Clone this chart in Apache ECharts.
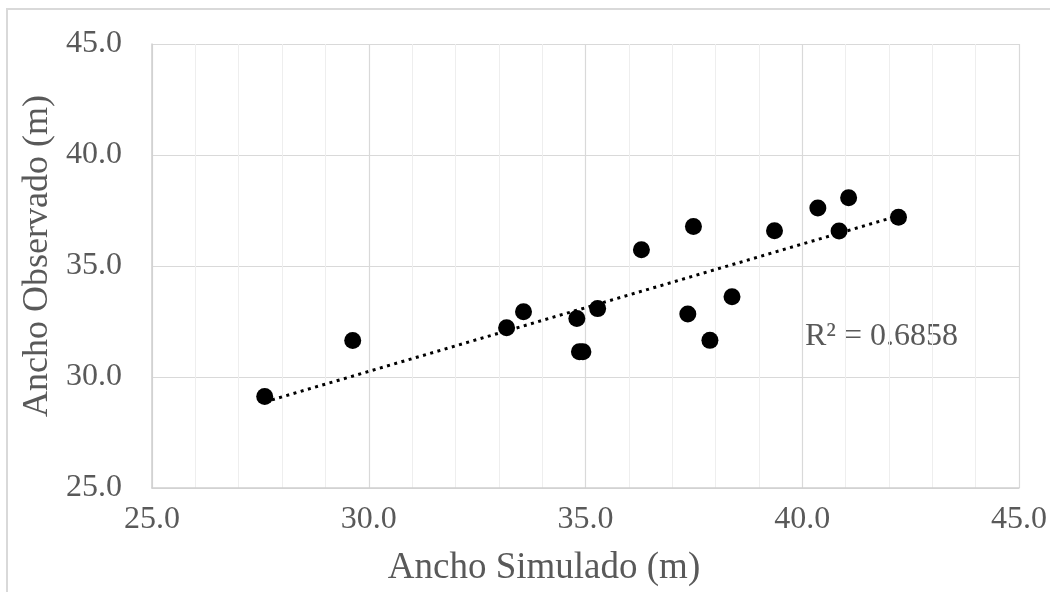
<!DOCTYPE html>
<html>
<head>
<meta charset="utf-8">
<script src="https://cdn.jsdelivr.net/npm/echarts@6/dist/echarts.min.js"></script>
<style>
html,body{margin:0;padding:0;background:#fff;}
#chart{width:1050px;height:592px;}
</style>
</head>
<body>
<div id="chart"></div>
<script>
// Data
var anchoSimulado = [27.60, 29.63, 33.18, 33.57, 34.80, 34.86, 34.94, 35.28, 36.29, 37.49, 37.36, 37.87, 38.38, 39.36, 40.36, 40.85, 41.07, 42.22];
var anchoObservado = [29.12, 31.64, 32.22, 32.94, 32.63, 31.14, 31.14, 33.08, 35.73, 36.78, 32.84, 31.65, 33.62, 36.59, 37.61, 36.58, 38.07, 37.20];
var axisTicks = [25, 30, 35, 40, 45];
var xTitle = 'Ancho Simulado (m)';
var yTitle = 'Ancho Observado (m)';
var r2Label = 'R² = 0.6858';

var points = anchoSimulado.map(function (x, i) { return [x, anchoObservado[i]]; });

// Linear trendline (least squares) over the data range
var n = points.length, mx = 0, my = 0;
points.forEach(function (p) { mx += p[0]; my += p[1]; });
mx /= n; my /= n;
var sxy = 0, sxx = 0;
points.forEach(function (p) { sxy += (p[0] - mx) * (p[1] - my); sxx += (p[0] - mx) * (p[0] - mx); });
var slope = sxy / sxx, intercept = my - slope * mx;
var xMin = Math.min.apply(null, anchoSimulado), xMax = Math.max.apply(null, anchoSimulado);
var trend = [[xMin, intercept + slope * xMin], [xMax, intercept + slope * xMax]];

var FONT = 'Liberation Serif';
var GREY = '#595959';

var chart = echarts.init(document.getElementById('chart'), null, { renderer: 'canvas' });
chart.setOption({
  backgroundColor: '#ffffff',
  animation: false,
  grid: { left: 152, top: 44, width: 867, height: 444, outerBoundsMode: 'none', containLabel: false },
  xAxis: {
    type: 'value',
    min: axisTicks[0], max: axisTicks[axisTicks.length - 1], interval: 5,
    axisLine: { show: true, lineStyle: { color: '#cfcfcf', width: 1.5 } },
    axisTick: { show: false },
    minorTick: { show: false, splitNumber: 5 },
    splitLine: { show: true, lineStyle: { color: '#d9d9d9', width: 1.2 } },
    minorSplitLine: { show: true, lineStyle: { color: '#eeeeee', width: 1 } },
    axisLabel: {
      color: GREY, fontFamily: FONT, fontSize: 32, margin: 16,
      formatter: function (v) { return v.toFixed(1); }
    }
  },
  yAxis: {
    type: 'value',
    min: axisTicks[0], max: axisTicks[axisTicks.length - 1], interval: 5,
    axisLine: { show: true, lineStyle: { color: '#cfcfcf', width: 1.5 } },
    axisTick: { show: false },
    splitLine: { show: true, lineStyle: { color: '#d9d9d9', width: 1.2 } },
    axisLabel: {
      color: GREY, fontFamily: FONT, fontSize: 32, margin: 30,
      formatter: function (v) { return v.toFixed(1); }
    }
  },
  series: [
    {
      type: 'line',
      data: trend,
      symbol: 'none',
      z: 2,
      lineStyle: { color: '#000', width: 3, type: [3, 4.5], cap: 'butt' }
    },
    {
      type: 'scatter',
      data: points,
      symbol: 'circle',
      symbolSize: 17,
      z: 3,
      itemStyle: { color: '#000', opacity: 1 }
    }
  ],
  graphic: [
    {
      type: 'rect',
      shape: { x: 7, y: 9, width: 1100, height: 700 },
      style: { fill: 'none', stroke: '#d9d9d9', lineWidth: 2 },
      silent: true, z: -1
    },
    {
      type: 'text',
      x: 544, y: 568,
      style: { text: xTitle, font: '37px "' + FONT + '"', fill: GREY, align: 'center', verticalAlign: 'middle' }
    },
    {
      type: 'text',
      x: 38, y: 256,
      rotation: Math.PI / 2,
      style: { text: yTitle, font: '36px "' + FONT + '"', fill: GREY, align: 'center', verticalAlign: 'middle' }
    },
    {
      type: 'text',
      x: 805, y: 337,
      style: { text: r2Label, font: '32px "' + FONT + '"', fill: GREY, align: 'left', verticalAlign: 'middle' }
    }
  ]
});
</script>
</body>
</html>
